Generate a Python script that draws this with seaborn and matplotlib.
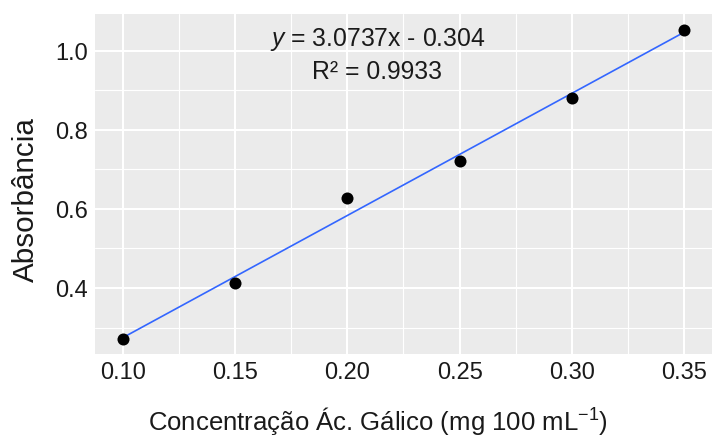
import matplotlib
matplotlib.use("Agg")
import matplotlib.pyplot as plt
import numpy as np
import pandas as pd
import seaborn as sns

# Gallic acid calibration data
concentracao = [0.10, 0.15, 0.20, 0.25, 0.30, 0.35]
absorbancia = [0.271, 0.412, 0.627, 0.722, 0.880, 1.052]
x_ticks = [0.10, 0.15, 0.20, 0.25, 0.30, 0.35]
x_tick_labels = ["0.10", "0.15", "0.20", "0.25", "0.30", "0.35"]
y_ticks = [0.4, 0.6, 0.8, 1.0]
y_tick_labels = ["0.4", "0.6", "0.8", "1.0"]
eq_text = r"$\it{y}$ = 3.0737x - 0.304"
r2_text = "R² = 0.9933"

df = pd.DataFrame({"conc": concentracao, "abs": absorbancia})

sns.set_theme(style="darkgrid")
plt.rcParams["font.family"] = ["Liberation Sans", "DejaVu Sans"]
plt.rcParams["mathtext.fontset"] = "custom"
plt.rcParams["mathtext.rm"] = "Liberation Sans"
plt.rcParams["mathtext.it"] = "Liberation Sans:italic"

fig = plt.figure(figsize=(7.13, 4.39), dpi=100)
ax = fig.add_axes([0.1332, 0.1913, 0.8654, 0.7745])
ax.set_facecolor("#EBEBEB")

sns.regplot(data=df, x="conc", y="abs", ci=None, ax=ax,
            scatter_kws=dict(color="black", s=75, linewidths=0, alpha=1, zorder=4),
            line_kws=dict(color="#3366FF", lw=1.2, zorder=3))

ax.set_xlim(0.0875, 0.3625)
ax.set_ylim(0.233, 1.093)
ax.set_xticks(x_ticks)
ax.set_xticklabels(x_tick_labels)
ax.set_yticks(y_ticks)
ax.set_yticklabels(y_tick_labels)
ax.set_xticks([0.125, 0.175, 0.225, 0.275, 0.325], minor=True)
ax.set_yticks([0.3, 0.5, 0.7, 0.9], minor=True)

ax.grid(which="major", color="white", lw=1.5)
ax.grid(which="minor", color="white", lw=0.8)
ax.set_axisbelow(True)
for s in ax.spines.values():
    s.set_visible(False)

ax.tick_params(axis="both", which="major", length=3, width=1.1, color="#333333",
               labelsize=17, labelcolor="#1a1a1a", pad=2)
ax.tick_params(axis="both", which="minor", length=0)

ax.set_xlabel("Concentração Ác. Gálico (mg 100 mL$^{-1}$)", fontsize=18.5,
              color="#1a1a1a", labelpad=15.5)
ax.set_ylabel("Absorbância", fontsize=21.3, color="#1a1a1a", labelpad=11)
ax.xaxis.label.set_x(0.459)
ax.yaxis.label.set_y(0.456)

ax.text(0.2134, 1.030, eq_text, ha="center", va="center", fontsize=17.8, color="#1a1a1a")
ax.text(0.2134, 0.949, r2_text, ha="center", va="center", fontsize=17.8, color="#1a1a1a")

fig.savefig("out.png", dpi=100)
